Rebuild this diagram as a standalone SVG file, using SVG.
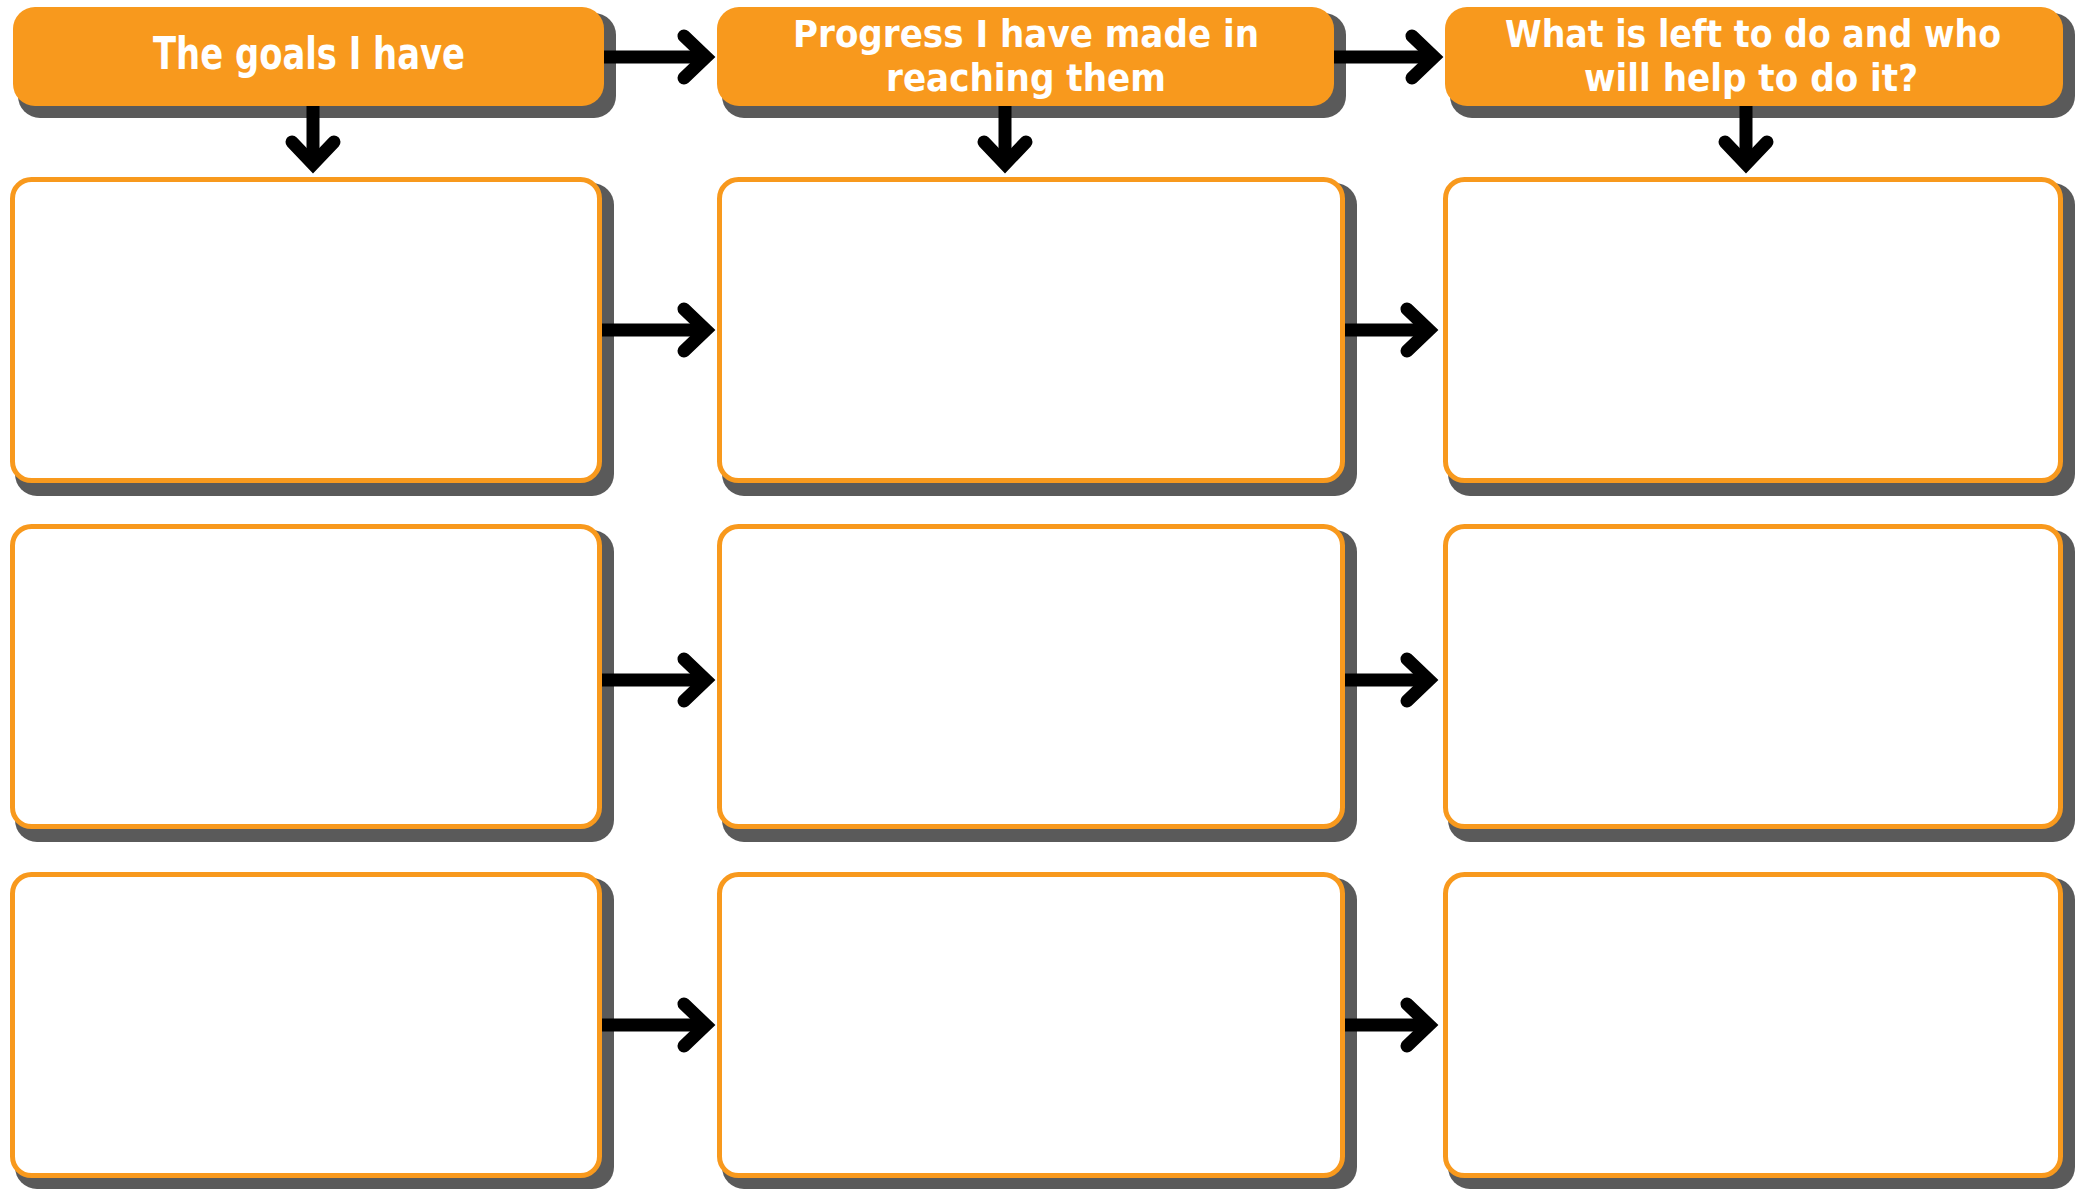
<svg xmlns="http://www.w3.org/2000/svg" width="2082" height="1189" viewBox="0 0 2082 1189">
<defs>
<style>
.shadow{fill:#5a5a5a}
.hdr{fill:#f8991d}
.box{fill:#ffffff;stroke:#f8991d;stroke-width:5}
.t{fill:#ffffff;font-family:"DejaVu Sans Condensed","DejaVu Sans",sans-serif;font-weight:bold;text-anchor:middle}
.shaft{stroke:#000;stroke-width:13;fill:none}
.head{stroke:#000;stroke-width:13;fill:none;stroke-linecap:round;stroke-linejoin:miter;stroke-miterlimit:10}
</style>
</defs>
<rect width="2082" height="1189" fill="#ffffff"/>

<g id="header-goals">
<rect class="shadow" x="18" y="13" width="598" height="105" rx="22"/>
<rect class="hdr" x="13" y="7" width="591" height="99" rx="22"/>
<text class="t" x="309" y="69" font-size="44" textLength="312" lengthAdjust="spacingAndGlyphs">The goals I have</text>
</g>
<g id="header-progress">
<rect class="shadow" x="722" y="13" width="624" height="105" rx="22"/>
<rect class="hdr" x="717" y="7" width="617" height="99" rx="22"/>
<text class="t" x="1026" y="47" font-size="37" textLength="466" lengthAdjust="spacingAndGlyphs">Progress I have made in</text>
<text class="t" x="1026" y="91" font-size="37" textLength="280" lengthAdjust="spacingAndGlyphs">reaching them</text>
</g>
<g id="header-left">
<rect class="shadow" x="1450" y="13" width="625" height="105" rx="22"/>
<rect class="hdr" x="1445" y="7" width="618" height="99" rx="22"/>
<text class="t" x="1753" y="47" font-size="37" textLength="496" lengthAdjust="spacingAndGlyphs">What is left to do and who</text>
<text class="t" x="1751" y="91" font-size="37" textLength="334" lengthAdjust="spacingAndGlyphs">will help to do it?</text>
</g>

<g id="box-r1c1"><rect class="shadow" x="15" y="183" width="599" height="313" rx="22"/><rect class="box" x="12.5" y="179.5" width="587" height="301" rx="19"/></g>
<g id="box-r1c2"><rect class="shadow" x="722" y="183" width="635" height="313" rx="22"/><rect class="box" x="719.5" y="179.5" width="623" height="301" rx="19"/></g>
<g id="box-r1c3"><rect class="shadow" x="1448" y="183" width="627" height="313" rx="22"/><rect class="box" x="1445.5" y="179.5" width="615" height="301" rx="19"/></g>

<g id="box-r2c1"><rect class="shadow" x="15" y="530" width="599" height="312" rx="22"/><rect class="box" x="12.5" y="526.5" width="587" height="300" rx="19"/></g>
<g id="box-r2c2"><rect class="shadow" x="722" y="530" width="635" height="312" rx="22"/><rect class="box" x="719.5" y="526.5" width="623" height="300" rx="19"/></g>
<g id="box-r2c3"><rect class="shadow" x="1448" y="530" width="627" height="312" rx="22"/><rect class="box" x="1445.5" y="526.5" width="615" height="300" rx="19"/></g>

<g id="box-r3c1"><rect class="shadow" x="15" y="878" width="599" height="311" rx="22"/><rect class="box" x="12.5" y="874.5" width="587" height="301" rx="19"/></g>
<g id="box-r3c2"><rect class="shadow" x="722" y="878" width="635" height="311" rx="22"/><rect class="box" x="719.5" y="874.5" width="623" height="301" rx="19"/></g>
<g id="box-r3c3"><rect class="shadow" x="1448" y="878" width="627" height="311" rx="22"/><rect class="box" x="1445.5" y="874.5" width="615" height="301" rx="19"/></g>

<g id="connectors">
<line class="shaft" x1="604" y1="57" x2="706" y2="57"/>
<polyline class="head" points="684,36 706,57 684,78"/>
<line class="shaft" x1="1334" y1="57" x2="1434" y2="57"/>
<polyline class="head" points="1412,36 1434,57 1412,78"/>
<line class="shaft" x1="313" y1="106" x2="313" y2="164"/>
<polyline class="head" points="292,142 313,164 334,142"/>
<line class="shaft" x1="1005" y1="106" x2="1005" y2="164"/>
<polyline class="head" points="984,142 1005,164 1026,142"/>
<line class="shaft" x1="1746" y1="106" x2="1746" y2="164"/>
<polyline class="head" points="1725,142 1746,164 1767,142"/>
<line class="shaft" x1="602" y1="330" x2="706" y2="330"/>
<polyline class="head" points="684,309 706,330 684,351"/>
<line class="shaft" x1="1345" y1="330" x2="1429" y2="330"/>
<polyline class="head" points="1407,309 1429,330 1407,351"/>
<line class="shaft" x1="602" y1="680" x2="706" y2="680"/>
<polyline class="head" points="684,659 706,680 684,701"/>
<line class="shaft" x1="1345" y1="680" x2="1429" y2="680"/>
<polyline class="head" points="1407,659 1429,680 1407,701"/>
<line class="shaft" x1="602" y1="1025" x2="706" y2="1025"/>
<polyline class="head" points="684,1004 706,1025 684,1046"/>
<line class="shaft" x1="1345" y1="1025" x2="1429" y2="1025"/>
<polyline class="head" points="1407,1004 1429,1025 1407,1046"/>
</g>
</svg>
